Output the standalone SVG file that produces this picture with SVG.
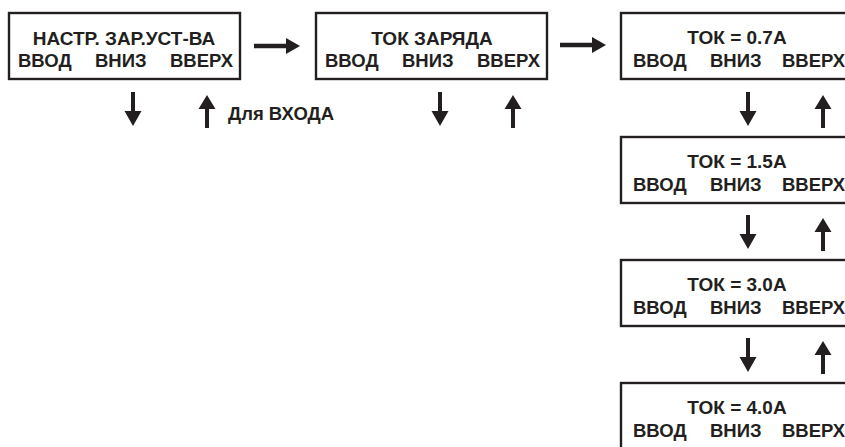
<svg xmlns="http://www.w3.org/2000/svg" width="845" height="447" viewBox="0 0 845 447">
<style>
.box{fill:#fff;stroke:#231f20;stroke-width:2.4}
text{font-family:"Liberation Sans",Arial,sans-serif;font-weight:bold;font-size:18.5px;fill:#231f20}
.t{text-anchor:middle;font-size:19px}
.arr{fill:#231f20}
</style>
<defs>
<path id="down" d="M-2,0 H2 V19 H8.5 L0,34 L-8.5,19 H-2 Z"/>
<path id="up" d="M-2,33 H2 V14 H8.5 L0,0 L-8.5,14 H-2 Z"/>
<path id="right" d="M0,-2.3 H32 V-8 L46,0 L32,8 V2.3 H0 Z"/>
</defs>
<rect width="845" height="447" fill="#fff"/>
<g id="n1">
<rect class="box" x="9" y="13" width="231" height="66"/>
<text class="t" x="124" y="45">НАСТР. ЗАР.УСТ-ВА</text>
<text x="18" y="67">ВВОД</text><text x="95" y="67">ВНИЗ</text><text x="170" y="67">ВВЕРХ</text>
</g>
<g id="n2">
<rect class="box" x="316" y="13" width="231" height="66"/>
<text class="t" x="432" y="45">ТОК ЗАРЯДА</text>
<text x="325" y="67">ВВОД</text><text x="402" y="67">ВНИЗ</text><text x="477" y="67">ВВЕРХ</text>
</g>
<g id="n3">
<rect class="box" x="621" y="13" width="232" height="66"/>
<text class="t" x="737" y="44">ТОК = 0.7А</text>
<text x="633" y="67">ВВОД</text><text x="710" y="67">ВНИЗ</text><text x="782" y="67">ВВЕРХ</text>
</g>
<g id="n4">
<rect class="box" x="621" y="137" width="232" height="66"/>
<text class="t" x="737" y="168">ТОК = 1.5А</text>
<text x="633" y="191">ВВОД</text><text x="710" y="191">ВНИЗ</text><text x="782" y="191">ВВЕРХ</text>
</g>
<g id="n5">
<rect class="box" x="621" y="260" width="232" height="66"/>
<text class="t" x="737" y="291">ТОК = 3.0А</text>
<text x="633" y="314">ВВОД</text><text x="710" y="314">ВНИЗ</text><text x="782" y="314">ВВЕРХ</text>
</g>
<g id="n6">
<rect class="box" x="621" y="383" width="232" height="66"/>
<text class="t" x="737" y="414">ТОК = 4.0А</text>
<text x="633" y="437">ВВОД</text><text x="710" y="437">ВНИЗ</text><text x="782" y="437">ВВЕРХ</text>
</g>
<g id="connectors" class="arr">
<use href="#right" x="254" y="46"/>
<use href="#right" x="560" y="45"/>
<use href="#down" x="133" y="92"/>
<use href="#up" x="207" y="95"/>
<use href="#down" x="440" y="92"/>
<use href="#up" x="513" y="95"/>
<use href="#down" x="748" y="92"/>
<use href="#up" x="823" y="95"/>
<use href="#down" x="748" y="215"/>
<use href="#up" x="823" y="218"/>
<use href="#down" x="748" y="338"/>
<use href="#up" x="823" y="341"/>
</g>
<text id="label" x="228" y="120">Для ВХОДА</text>
</svg>
